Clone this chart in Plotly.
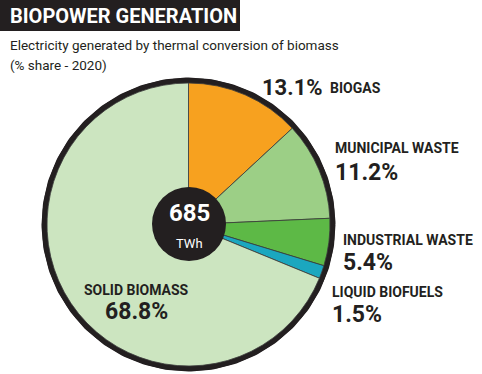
import numpy as np
import plotly.graph_objects as go

categories = ["Biogas", "Municipal waste", "Industrial waste", "Liquid biofuels", "Solid biomass"]
shares = [13.1, 11.2, 5.4, 1.5, 68.8]
label_names = ["BIOGAS", "MUNICIPAL WASTE", "INDUSTRIAL WASTE", "LIQUID BIOFUELS", "SOLID BIOMASS"]
colors = ["#F7A11F", "#9CCF86", "#5DB946", "#1BA7BF", "#CCE5C0"]
total_twh = 685

W, H = 482, 374
FONT = "Roboto, Liberation Sans, sans-serif"
DARK = "#231F20"

def px(x):
    return x / W

def py(y):
    return 1 - y / H

def dom(cx, cy, r):
    return dict(x=[px(cx - r), px(cx + r)], y=[py(cy + r), py(cy - r)])

fig = go.Figure()

CX, CY, R = 188.5, 224.5, 141.5
RING = 5.0

# outline drawn on hidden pixel-scaled axes (just outside the pie edge)
t = np.linspace(0, 2 * np.pi, 361)
ro = R + RING / 2
fig.add_trace(go.Scatter(
    x=CX + ro * np.cos(t), y=CY + ro * np.sin(t), mode="lines",
    line=dict(color=DARK, width=RING + 1), hoverinfo="skip", showlegend=False,
))
# black backing disc, slightly larger than the pie
fig.add_trace(go.Pie(
    labels=["backing"], values=[1],
    marker=dict(colors=[DARK]), textinfo="none", showlegend=False,
    domain=dom(CX, CY, R + RING),
))
fig.add_trace(go.Pie(
    labels=categories, values=shares, sort=False, direction="clockwise",
    marker=dict(colors=colors, line=dict(color="#3b3b3b", width=0.8)),
    textinfo="none", showlegend=False, domain=dom(CX, CY, R),
))
# center disc
fig.add_trace(go.Pie(
    labels=["discC"], values=[1],
    marker=dict(colors=[DARK]), textinfo="none", showlegend=False,
    domain=dom(189, 224, 37),
))

shapes = [
    dict(type="rect", xref="paper", yref="paper", x0=0, x1=px(240), y0=py(31), y1=1,
         fillcolor=DARK, line=dict(width=0)),
]

ann = []
def add(text, x, y, size, color=DARK, xanchor="left", bold=True):
    ann.append(dict(text=f"<b>{text}</b>" if bold else text, x=px(x), y=py(y), xref="paper", yref="paper",
                    xanchor=xanchor, yanchor="middle", showarrow=False,
                    font=dict(family=FONT, size=size, color=color)))

add("BIOPOWER GENERATION", 8, 16, 20, color="white")
add("Electricity generated by thermal conversion of biomass", 8, 45, 13.5, bold=False)
add("(% share - 2020)", 8, 65, 13.5, bold=False)

pct = [f"{v}%" for v in shares]
add(pct[0], 260, 87, 22)
add(label_names[0], 328, 88, 14)
add(label_names[1], 333, 148, 14)
add(pct[1], 333, 172, 23)
add(label_names[2], 341, 240, 14)
add(pct[2], 341, 262, 23)
add(label_names[3], 330, 292, 14)
add(pct[3], 330, 314, 23)
add(label_names[4], 136, 290, 14, xanchor="center")
add(pct[4], 136, 311, 23, xanchor="center")

add(str(total_twh), 189, 213, 24, color="white", xanchor="center")
add("TWh", 189, 243, 13, color="white", xanchor="center", bold=False)

fig.update_layout(width=W, height=H, margin=dict(l=0, r=0, t=0, b=0),
                  xaxis=dict(range=[0, W], visible=False, fixedrange=True),
                  yaxis=dict(range=[H, 0], visible=False, fixedrange=True),
                  paper_bgcolor="white", plot_bgcolor="rgba(0,0,0,0)",
                  shapes=shapes, annotations=ann)

fig.write_html("out.html", config={"displayModeBar": False},
               post_script="document.body.style.margin='0';")
